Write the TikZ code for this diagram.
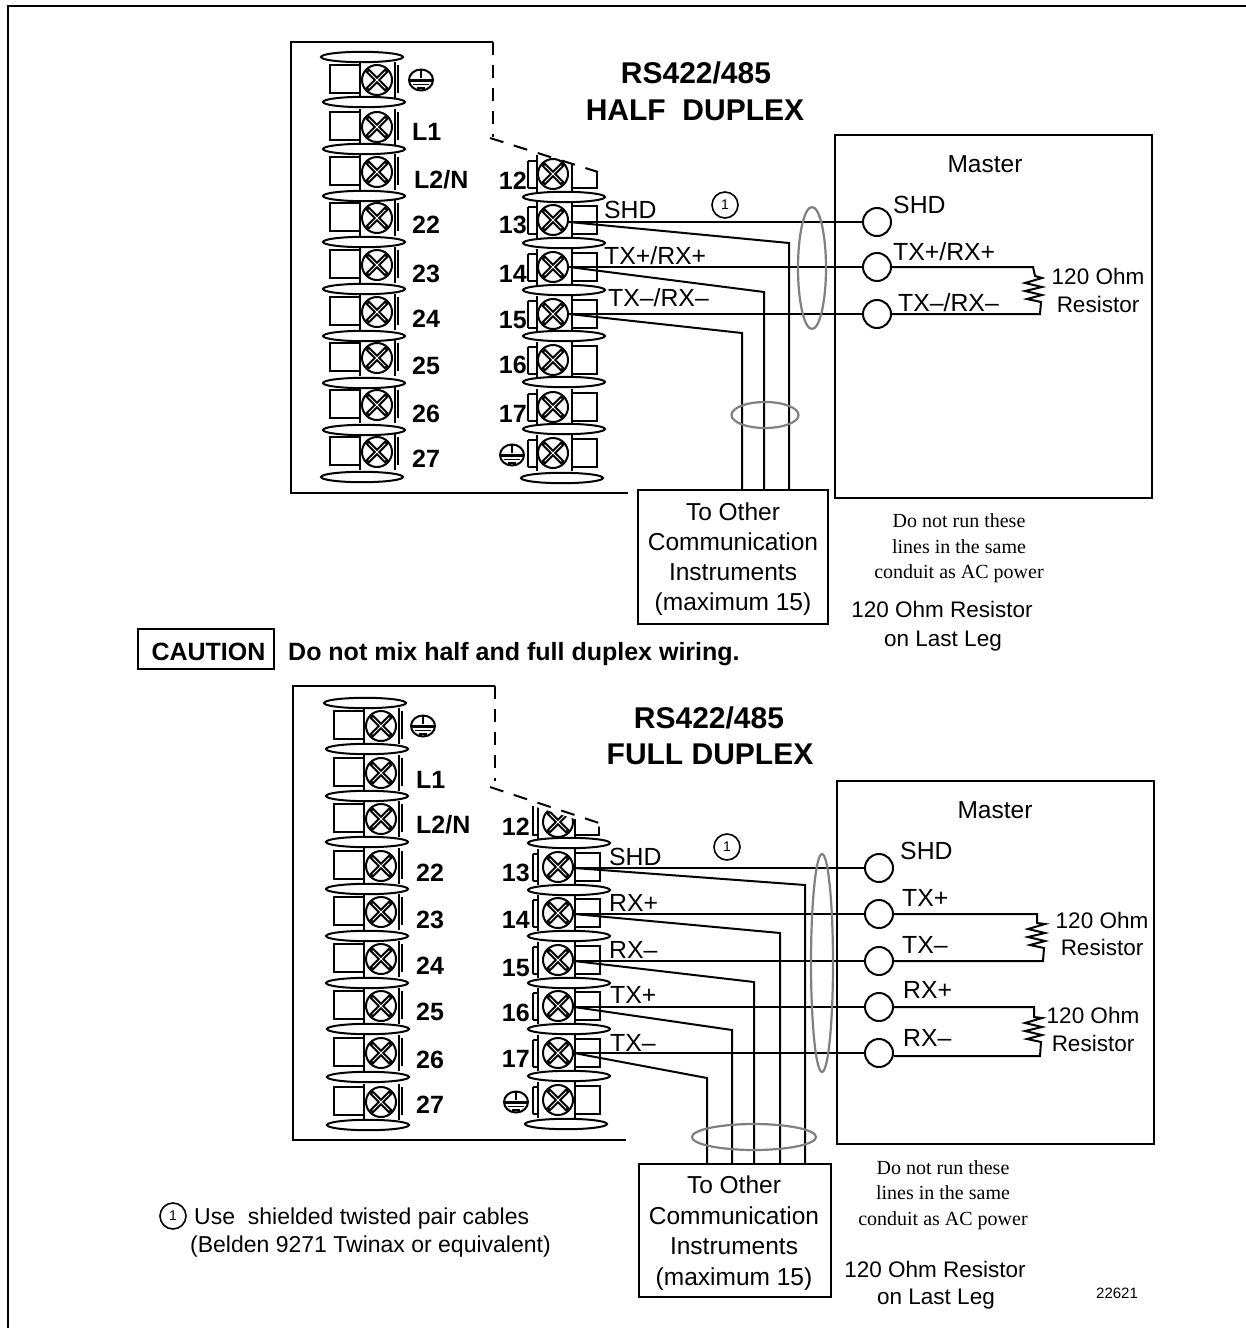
\documentclass[tikz,border=0pt]{standalone}
\usepackage{fontspec}
\setmainfont{Liberation Sans}
\newfontfamily\timesf{Liberation Serif}
\newcommand\fsz[1]{\fontsize{#1}{#1}\selectfont}
\usetikzlibrary{calc,shapes.geometric}
\tikzset{
  ln/.style={line width=2pt,black},
  wire/.style={line width=2pt,black,line join=miter},
  shield/.style={line width=2.2pt,draw=black!50},
  oval/.style={line width=2pt,draw=black,fill=white},
  screw/.style={circle,draw=black,line width=2pt,fill=white,minimum size=30pt,inner sep=0pt},
  pin/.style={circle,draw=black,line width=2pt,fill=white,minimum size=28pt,inner sep=0pt},
  note1/.style={circle,draw=black,line width=1.6pt,fill=white,minimum size=26pt,inner sep=0pt,font=\fsz{14}},
  box/.style={draw=black,line width=2pt,fill=none},
  bl/.style={inner sep=0pt,anchor=base west,font=\bfseries\fsz{25}},
  br/.style={inner sep=0pt,anchor=base east,font=\bfseries\fsz{25}},
  tl/.style={inner sep=0pt,anchor=base west,font=\fsz{24.8}},
  tc/.style={inner sep=0pt,anchor=base,font=\fsz{24.5}},
  rc/.style={inner sep=0pt,anchor=base,font=\fsz{22.5}},
  fn/.style={inner sep=0pt,anchor=base west,font=\fsz{23}},
  nc/.style={inner sep=0pt,anchor=base,font=\timesf\fsz{20}},
  hd/.style={inner sep=0pt,anchor=base,font=\bfseries\fsz{30}},
}
% screw cross
\newcommand\screwx[3]{%
  \node[screw] (#1) at (#2,#3) {};
  \draw[line width=5pt] ($(#1.north west)+(1.5,1.5)$) -- ($(#1.south east)+(-1.5,-1.5)$);
  \draw[line width=5pt] ($(#1.north east)+(-1.5,1.5)$) -- ($(#1.south west)+(1.5,-1.5)$);
  \draw[line width=0.8pt,white] ($(#1.north west)+(3,3)$) -- ($(#1.south east)+(-3,-3)$);
  \draw[line width=0.8pt,white] ($(#1.north east)+(-3,3)$) -- ($(#1.south west)+(3,-3)$);
}
% left strip terminal: name, screw x, y
\newcommand\termL[3]{%
  \draw[ln] (#2-47,#3-15) rectangle (#2-17,#3+13);
  \draw[ln] (#2-17,#3-18) -- (#2-17,#3+18) (#2+18,#3-18) -- (#2+18,#3+18);
  \draw[ln] (#2+21,#3-15) -- (#2+21,#3+13);
  \screwx{#1}{#2}{#3}
}
% right strip terminal: name, screw x, y, box shift
\newcommand\termR[4]{%
  \draw[ln] (#2-25,#3-13) -- (#2-16+2*#4,#3-13) (#2-25,#3+14) -- (#2-16+2*#4,#3+14) (#2-25,#3-13) -- (#2-25,#3+14);
  \draw[ln] (#2-16+2*#4,#3-18) -- (#2-16+2*#4,#3+18) (#2+19+#4,#3-18) -- (#2+19+#4,#3+18);
  \draw[ln] (#2+19+#4,#3-14) rectangle (#2+44+#4,#3+14);
  \screwx{#1}{#2}{#3}
}
% earth symbol
\newcommand\gnd[3]{%
  \node[ellipse,draw=black,line width=2pt,minimum width=24pt,minimum height=21pt,inner sep=0pt] (#1) at (#2,#3) {};
  \draw[line width=1.6pt] (#1.north) -- ++(0,9);
  \draw[line width=3pt] ($(#1.center)+(-11,0)$) -- ++(22,0);
  \draw[line width=1.5pt] ($(#1.center)+(-8,4.5)$) -- ++(16,0);
  \draw[line width=1.5pt] ($(#1.center)+(-4,8)$) -- ++(8,0);
}
\begin{document}
\begin{tikzpicture}[x=1pt,y=-1pt]
\useasboundingbox (0,0) rectangle (1246,1328);
\fill[white] (0,0) rectangle (1246,1328);
% page frame
\coordinate (fa) at (7.5,1328); \coordinate (fb) at (7.5,5.5); \coordinate (fc) at (1246,5.5);
\draw[ln] (fa) -- (fb) -- (fc);

%%%%%%%%%%%%% HALF DUPLEX %%%%%%%%%%%%%
\coordinate (ha) at (291,493); \coordinate (hb) at (291,42); \coordinate (hc) at (493,42);
\coordinate (hd) at (628,493); \coordinate (he) at (493,137); \coordinate (hf) at (490,138); \coordinate (hg) at (598,172);
\draw[ln] (hd) -- (ha) -- (hb) -- (hc);
\draw[ln,dash pattern=on 13pt off 10pt] (hc) -- (he);
\draw[ln,dash pattern=on 14pt off 11pt] (hf) -- (hg);
% left strip
\foreach \n/\y in {e/80,a/127,b/172,c/218,d/265,f/312,g/358,h/405,i/452}{\termL{hl\n}{377}{\y}}
\foreach \x/\y/\r in {362/57/41,364/102/41,364/149/41,364/196/41,364/242/41,364/289/41,364/336/41,364/383/41,364/430/41,362/477/41}{\draw[oval] (\x,\y) ellipse (\r pt and 5.2pt);}
\gnd{hge}{421}{80}
\foreach \k/\t/\y/\x in {1/L1/140/412,2/L2\slash N/188/414,3/22/233/412,4/23/282/412,5/24/327/412,6/25/374/412,7/26/422/412,8/27/467/412}{\node[bl] (hlt\k) at (\x,\y) {\t};}
% right strip: terminal 12
\draw[ln] (528,161) -- (537,161) (528,188) -- (537,188) (528,161) -- (528,188);
\draw[ln] (537,155) -- (537,194) (572,163) -- (572,194);
\draw[ln] (597,172) -- (597,188) -- (572,188);
\screwx{hs12}{553}{174}
\foreach \n/\y in {13/220,14/267,15/314,16/360,17/407,18/453}{\termR{hs\n}{553}{\y}{0}}
\foreach \x/\y in {564/197,564/243,564/290,564/336,564/382,564/429,562/478}{\draw[oval] (\x,\y) ellipse (41pt and 5.2pt);}
\gnd{hgr}{512}{455}
\foreach \t/\y in {12/189,13/233,14/282,15/328,16/373,17/422}{\node[br] (hrt\t) at (527,\y) {\t};}
% master
\node[box,minimum width=317pt,minimum height=363pt,inner sep=0pt] (hmaster) at (993.5,316.5) {};
\node[box,fill=white,minimum width=190pt,minimum height=134pt,inner sep=0pt] (hother) at (733,557) {};
\node[pin] (hp1) at (877,222) {};
\node[pin] (hp2) at (877,267) {};
\node[pin] (hp3) at (877,314) {};
% wires
\coordinate (hk13) at (789,243); \coordinate (hk14) at (764,292); \coordinate (hk15) at (742,333);
\draw[wire] (hs13.east |- hp1) -- (hp1.west);
\draw[wire] (hs14.east) -- (hp2.west);
\draw[wire] (hs15.east) -- (hp3.west);
\draw[wire] (hs13.east |- hp1) -- (hk13) -- (hk13 |- hother.north);
\draw[wire] (hs14.east) -- (hk14) -- (hk14 |- hother.north);
\draw[wire] (hs15.east) -- (hk15) -- (hk15 |- hother.north);
\draw[shield] (812,268) ellipse (14pt and 61pt);
\draw[shield] (765,415) ellipse (33.5pt and 13pt);
\node[note1] (hn1) at (725,205) {1};
% resistor
\coordinate (hr1) at (1033,267); \coordinate (hr2) at (1040,314);
\draw[wire] (hp2.east) -- (hr1) -- ++(2,9) -- ++(7,2) -- ++(-17,5) -- ++(17,4) -- ++(-17,4) -- ++(17,4) -- ++(-15,4) -- ++(14,3) -- (hr2) -- (hp3.east);
% text
\node[hd] (ht1) at (696,83) {RS422/485};
\node[hd] (ht2) at (695,120) {HALF\ \ DUPLEX};
\node[tc] (hmt) at (985,172) {Master};
\node[tl] (hw1) at (604,218) {SHD};
\node[tl] (hw2) at (604,264) {TX+/RX+};
\node[tl] (hw3) at (608,306) {TX–/RX–};
\node[tl] (hw4) at (893,213) {SHD};
\node[tl] (hw5) at (893,260) {TX+/RX+};
\node[tl] (hw6) at (898,311) {TX–/RX–};
\node[rc] (hr120) at (1098,284) {120 Ohm};
\node[rc] (hrres) at (1098,312) {Resistor};
\foreach \k/\t/\y in {1/To Other/520,2/Communication/550,3/Instruments/580,4/(maximum 15)/610}{\node[tc] (ho\k) at (733,\y) {\t};}
\foreach \k/\t/\y in {1/Do not run these/527,2/lines in the same/553,3/conduit as AC power/578}{\node[nc] (hc\k) at (959,\y) {\t};}
\node[rc] (hl1) at (942,617) {120 Ohm Resistor};
\node[rc] (hl2) at (943,646) {on Last Leg};

%%%%%%%%%%%%% CAUTION %%%%%%%%%%%%%
\node[box,minimum width=136pt,minimum height=40pt,inner sep=0pt] (cbox) at (206,649) {};
\node[bl,anchor=base] (ctxt) at (208.5,660) {CAUTION};
\node[bl] (cmsg) at (288,660) {Do not mix half and full duplex wiring.};

%%%%%%%%%%%%% FULL DUPLEX %%%%%%%%%%%%%
\coordinate (fa1) at (293,1140); \coordinate (fb1) at (293,686); \coordinate (fc1) at (495,686);
\coordinate (fd1) at (626,1140); \coordinate (fe1) at (495,781); \coordinate (ff1) at (490,787); \coordinate (fg1) at (599,823);
\draw[ln] (fd1) -- (fa1) -- (fb1) -- (fc1);
\draw[ln,dash pattern=on 13pt off 10pt] (fc1) -- (fe1);
\foreach \n/\y in {e/726,a/773,b/819,c/866,d/912,f/959,g/1006,h/1053,i/1102}{\termL{fl\n}{381}{\y}}
\foreach \x/\y in {365/703,367/749,367/796,367/842,367/889,367/936,367/983,368/1029,368/1077,368/1125}{\draw[oval] (\x,\y) ellipse (41pt and 5.2pt);}
\gnd{fge}{423}{726}
\foreach \k/\t/\y in {1/L1/788,2/L2\slash N/833,3/22/881,4/23/928,5/24/974,6/25/1020,7/26/1068,8/27/1113}{\node[bl] (flt\k) at (416,\y) {\t};}
% right strip: terminal 12 cut by the dashed line
\begin{scope}
\clip (520,802) -- (610,830) -- (610,850) -- (520,850) -- cycle;
\draw[ln] (533,800) -- (533,835) -- (538,835);
\draw[ln] (538,800) -- (538,840) (575,800) -- (575,840);
\draw[ln] (599,800) -- (599,835) -- (575,835);
\screwx{fs12}{558}{822}
\end{scope}
\draw[ln,dash pattern=on 14pt off 11pt] (ff1) -- (fg1);
\foreach \n/\y in {13/867,14/913,15/960,16/1006,17/1053,18/1100}{\termR{fs\n}{558}{\y}{-2}}
\foreach \x/\y in {569/843,569/890,569/936,569/983,569/1029,569/1076,566/1124}{\draw[oval] (\x,\y) ellipse (41pt and 5.2pt);}
\gnd{fgr}{516}{1102}
\foreach \t/\y in {12/835,13/881,14/928,15/976,16/1021,17/1067}{\node[br] (frt\t) at (530,\y) {\t};}
% master
\node[box,minimum width=317pt,minimum height=363pt,inner sep=0pt] (fmaster) at (995.5,962.5) {};
\node[box,fill=white,minimum width=192pt,minimum height=133pt,inner sep=0pt] (fother) at (735,1230.5) {};
\node[pin] (fp1) at (879,868) {};
\node[pin] (fp2) at (879,914) {};
\node[pin] (fp3) at (879,961) {};
\node[pin] (fp4) at (879,1007) {};
\node[pin] (fp5) at (879,1053) {};
% wires
\coordinate (fk13) at (805,885); \coordinate (fk14) at (780,933); \coordinate (fk15) at (754,982); \coordinate (fk16) at (732,1030); \coordinate (fk17) at (707,1078);
\foreach \a/\b in {13/1,14/2,15/3,16/4,17/5}{\draw[wire] (fs\a.east |- fp\b) -- (fp\b.west);}
\foreach \a/\b in {13/1,14/2,15/3,16/4,17/5}{\draw[wire] (fs\a.east |- fp\b) -- (fk\a) -- (fk\a |- fother.north);}
\draw[shield] (822,963) ellipse (11pt and 109pt);
\draw[shield] (754,1137) ellipse (62pt and 13pt);
\node[note1] (fn1) at (727,847) {1};
% resistors
\coordinate (fr1) at (1037,914); \coordinate (fr2) at (1043,961);
\draw[wire] (fp2.east) -- (fr1) -- ++(0,9) -- ++(8,1) -- ++(-17,5) -- ++(17,4) -- ++(-17,4) -- ++(17,4) -- ++(-15,4) -- ++(14,3) -- (fr2) -- (fp3.east);
\coordinate (fr3) at (1034,1007); \coordinate (fr4) at (1040,1056);
\draw[wire] (fp4.east) -- (fr3) -- ++(0,10) -- ++(8,1) -- ++(-17,5) -- ++(17,4) -- ++(-17,4) -- ++(17,4) -- ++(-15,4) -- ++(14,3) -- (fr4) -- (fp5.east |- fr4);
% text
\node[hd] (ft1) at (709,728) {RS422/485};
\node[hd] (ft2) at (710,764) {FULL DUPLEX};
\node[tc] (fmt) at (995,818) {Master};
\node[tl] (fw1) at (609,865) {SHD};
\node[tl] (fw2) at (609,911) {RX+};
\node[tl] (fw3) at (609,958) {RX–};
\node[tl] (fw4) at (610,1003) {TX+};
\node[tl] (fw5) at (610,1051) {TX–};
\node[tl] (fw6) at (900,859) {SHD};
\node[tl] (fw7) at (902,906) {TX+};
\node[tl] (fw8) at (902,953) {TX–};
\node[tl] (fw9) at (903,998) {RX+};
\node[tl] (fw10) at (903,1046) {RX–};
\node[rc] (fr120) at (1102,928) {120 Ohm};
\node[rc] (frres) at (1102,955) {Resistor};
\node[rc] (fr120b) at (1093,1023) {120 Ohm};
\node[rc] (frresb) at (1093,1051) {Resistor};
\foreach \k/\t/\y in {1/To Other/1193,2/Communication/1224,3/Instruments/1254,4/(maximum 15)/1285}{\node[tc] (fo\k) at (734,\y) {\t};}
\foreach \k/\t/\y in {1/Do not run these/1174,2/lines in the same/1199,3/conduit as AC power/1225}{\node[nc] (fc\k) at (943,\y) {\t};}
\node[rc] (fl1) at (935,1277) {120 Ohm Resistor};
\node[rc] (fl2) at (936,1304) {on Last Leg};
% footnote
\node[note1] (fnote) at (173,1216) {1};
\node[fn] (fnt1) at (194,1224) {Use\ \ shielded twisted pair cables};
\node[fn] (fnt2) at (190,1252) {(Belden 9271 Twinax or equivalent)};
\node[inner sep=0pt,anchor=base west,font=\fsz{15}] (fnum) at (1096,1298) {22621};
\end{tikzpicture}
\end{document}
